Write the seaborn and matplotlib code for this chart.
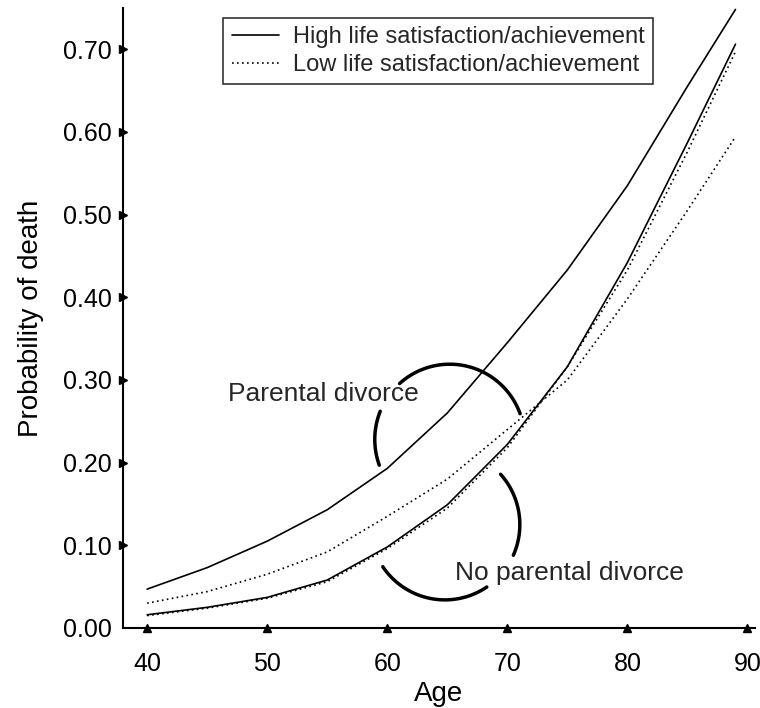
import numpy as np
import pandas as pd
import matplotlib
matplotlib.use("Agg")
import matplotlib.pyplot as plt
import seaborn as sns
from matplotlib.lines import Line2D

# values
ages = [40, 45, 50, 55, 60, 65, 70, 75, 80, 85, 89]
div_high = [0.047, 0.073, 0.105, 0.143, 0.193, 0.260, 0.345, 0.433, 0.535, 0.655, 0.748]
div_low = [0.030, 0.044, 0.065, 0.092, 0.135, 0.180, 0.240, 0.300, 0.398, 0.505, 0.594]
nodiv_high = [0.016, 0.025, 0.037, 0.058, 0.098, 0.149, 0.222, 0.316, 0.442, 0.587, 0.706]
nodiv_low = [0.015, 0.024, 0.036, 0.056, 0.096, 0.145, 0.218, 0.316, 0.433, 0.576, 0.697]

x_ticks = [40, 50, 60, 70, 80, 90]
y_ticks = [0.0, 0.1, 0.2, 0.3, 0.4, 0.5, 0.6, 0.7]
legend_labels = ["High life satisfaction/achievement", "Low life satisfaction/achievement"]

curves = {
    ("Parental divorce", "High"): div_high,
    ("Parental divorce", "Low"): div_low,
    ("No parental divorce", "High"): nodiv_high,
    ("No parental divorce", "Low"): nodiv_low,
}
rows = []
for (grp, lvl), vals in curves.items():
    for a, v in zip(ages, vals):
        rows.append({"Age": a, "Prob": v, "Group": grp, "Level": lvl})
df = pd.DataFrame(rows)

sns.set_theme(style="white")
plt.rcParams["font.family"] = ["Liberation Sans", "DejaVu Sans"]

fig = plt.figure(figsize=(7.6, 7.08), dpi=100)
ax = fig.add_axes([0.162, 0.113, 0.831, 0.876])

styles = {"High": "-", "Low": (0, (1, 2))}
for (grp, lvl), sub in df.groupby(["Group", "Level"]):
    sns.lineplot(data=sub, x="Age", y="Prob", ax=ax, color="black",
                 linewidth=1.2, linestyle=styles[lvl], legend=False)

ax.set_xlim(38, 90.6)
ax.set_ylim(0, 0.75)
ax.set_xticks(x_ticks)
ax.set_yticks(y_ticks)
ax.set_yticklabels([f"{t:.2f}" for t in y_ticks])
ax.tick_params(length=0, labelsize=18, colors="black")
ax.tick_params(axis="x", pad=17)
ax.tick_params(axis="y", pad=8)
ax.set_xlabel("Age", fontsize=20, color="black", labelpad=4)
ax.set_ylabel("Probability of death", fontsize=20, color="black", labelpad=14)
for s in ["top", "right"]:
    ax.spines[s].set_visible(False)
for s in ["left", "bottom"]:
    ax.spines[s].set_color("black")
    ax.spines[s].set_linewidth(1.5)

# triangle tick marks
ax.plot(x_ticks, [0] * len(x_ticks), linestyle="none", marker="^", color="black",
        markersize=6, clip_on=False)
ax.plot([38] * len(y_ticks[1:]), y_ticks[1:], linestyle="none", marker=">", color="black",
        markersize=6, clip_on=False)

# circular brackets: circles in pixels, so ellipses in data units
rx, ry = 6.24, 0.091
for (cx, cy), t1, t2 in [((65.2, 0.228), 20, 132), ((65.2, 0.228), 158, 200),
                         ((64.8, 0.125), -24, 42), ((64.8, 0.125), 214, 304)]:
    t = np.radians(np.linspace(t1, t2, 60))
    ax.plot(cx + rx * np.cos(t), cy + ry * np.sin(t), color="black", lw=2.5,
            solid_capstyle="round")

ax.text(54.7, 0.283, "Parental divorce", fontsize=19, ha="center", va="center")
ax.text(75.2, 0.067, "No parental divorce", fontsize=19, ha="center", va="center")

handles = [Line2D([], [], color="black", lw=1.2, linestyle="-"),
           Line2D([], [], color="black", lw=1.2, linestyle=(0, (1, 2)))]
leg = ax.legend(handles, legend_labels, loc="upper center", bbox_to_anchor=(0.499, 1.003),
                fontsize=17, frameon=True, fancybox=False, handlelength=2.0,
                handletextpad=0.6, borderpad=0.35, labelspacing=0.25)
leg.get_frame().set_edgecolor("black")
leg.get_frame().set_linewidth(1.2)

fig.savefig("out.png", dpi=100)
